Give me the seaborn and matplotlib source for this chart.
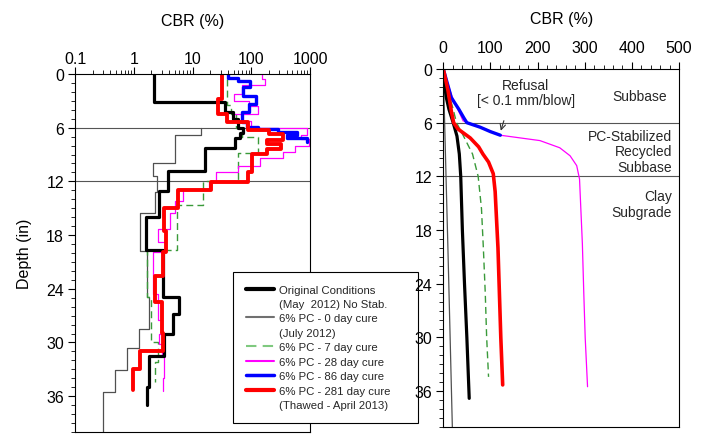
import numpy as np
import matplotlib
matplotlib.use("Agg")
import matplotlib.pyplot as plt
import seaborn as sns
from matplotlib.lines import Line2D
from matplotlib.ticker import MultipleLocator, LogLocator, NullFormatter

# ---------------- data: left panel (DCP-CBR step profiles) ----------------
orig_depth = [0, 3.1, 4.3, 5.0, 6.0, 6.6, 7.2, 8.3, 10.8, 13.1, 16.0, 19.7, 24.9, 26.8, 29.0, 31.5, 35.0, 37.0]
orig_cbr = [2.2, 36, 48, 60, 72, 64, 52, 16, 3.8, 2.7, 1.6, 3.2, 5.8, 4.6, 3.3, 1.8, 1.7]

day0_depth = [6.0, 6.8, 9.9, 11.4, 13.2, 15.5, 19.8, 24.9, 28.5, 30.6, 33.1, 35.5, 40.0]
day0_cbr = [14, 5.0, 2.1, 2.5, 2.3, 1.3, 1.65, 1.8, 1.23, 0.78, 0.48, 0.30]

day7_depth = [0.6, 3.5, 4.5, 6.0, 7.0, 8.8, 12.0, 14.6, 19.7, 24.9, 30.0, 32.2, 34.4]
day7_cbr = [38, 45, 55, 70, 130, 60, 15.3, 5.4, 1.66, 2.0, 2.6, 2.3]

day28_depth = [0, 0.6, 1.2, 2.2, 3.0, 3.6, 4.5, 5.3, 6.0, 6.8, 7.3, 8.0, 8.7, 9.4, 10.3, 11.0,
               12.1, 12.8, 14.2, 15.5, 17.3, 18.8, 19.9, 24.6, 27.5, 29.0, 30.2, 31.5, 34.0, 35.4]
day28_cbr = [150, 170, 70, 50, 90, 130, 50, 100, 900, 700, 950, 560, 350, 140, 60, 25,
             19, 7, 5, 4.2, 2.6, 3.4, 2.1, 2.6, 3.0, 2.7, 3.0, 3.3, 3.1]

day86_depth = [0, 0.4, 0.8, 1.5, 2.5, 3.3, 4.3, 5.4, 5.9, 6.2, 6.5, 6.8, 7.2, 7.6]
day86_cbr = [40, 60, 95, 72, 120, 90, 70, 85, 130, 280, 600, 400, 900]

day281_depth = [0, 2.8, 4.5, 5.4, 6.3, 6.7, 7.4, 7.8, 8.4, 8.9, 11.0, 12.1, 13.0, 15.0,
                17.5, 19.9, 22.6, 25.5, 28.9, 30.9, 33.0, 35.3]
day281_cbr = [32, 27, 38, 89, 200, 350, 182, 320, 182, 101, 89, 21, 5.7, 3.3,
              3.5, 3.1, 2.3, 3.0, 3.2, 1.28, 0.98]

# ---------------- data: right panel (cumulative curves) ----------------
c_orig_depth = [0, 1.5, 3.2, 4.5, 6.0, 7.5, 9.5, 12, 18, 24, 30, 36.8]
c_orig = [0, 2, 6.4, 12, 21, 29, 34, 37, 40.5, 45, 50, 55]

c_day0_depth = [0, 10, 20, 30, 40]
c_day0 = [0, 4.8, 9.8, 14.5, 19.2]

c_day7_depth = [0, 2, 4.3, 6, 7.4, 9.5, 12, 15.6, 20, 25, 30, 34.4]
c_day7 = [0, 7, 20, 28, 42, 62, 74, 81, 85, 89, 92, 96]

c_day28_depth = [0, 3, 5.8, 6.5, 7.4, 7.7, 8.0, 8.8, 9.7, 10.8, 12.3, 19.5, 25, 30, 35.5]
c_day28 = [0, 18, 42, 80, 121, 163, 205, 247, 269, 283, 289, 295, 298, 301, 306]

c_day86_depth = [0, 1.5, 3.2, 4.5, 5.5, 6.0, 6.5, 7.0, 7.4]
c_day86 = [0, 8, 17, 33, 44, 50, 78, 100, 121]

c_day281_depth = [0, 2.4, 4.7, 6.0, 6.7, 7.7, 8.7, 9.5, 10.4, 11.7, 13.7, 20, 25, 30, 35.3]
c_day281 = [0, 10, 17, 22, 31, 57, 75, 84, 96, 106, 110, 116, 119, 122, 126]

left_ticks = [0.1, 1, 10, 100, 1000]
left_ticklabels = ["0.1", "1", "10", "100", "1000"]
right_ticks = [0, 100, 200, 300, 400, 500]
depth_ticks = [0, 6, 12, 18, 24, 30, 36]
layer_depths = [6, 12]

legend_labels = ["Original Conditions", "(May  2012) No Stab.", "6% PC - 0 day cure", "(July 2012)",
                 "6% PC - 7 day cure", "6% PC - 28 day cure", "6% PC - 86 day cure",
                 "6% PC - 281 day cure", "(Thawed - April 2013)"]


def steps(depths, vals):
    d = np.asarray(depths, dtype=float)
    v = np.asarray(vals, dtype=float)
    y = np.column_stack([d[:-1], d[1:]]).ravel()
    x = np.repeat(v, 2)
    return x, y


sns.set_theme(style="ticks")
plt.rcParams["font.family"] = ["Liberation Sans", "DejaVu Sans"]

C_BLACK = "#000000"
C_GRAY = "#505050"
C_GREEN = "#3a9a3a"
C_MAG = "#ff00ff"
C_BLUE = "#0000ff"
C_RED = "#ff0000"
DASH = (0, (5, 3))

fig = plt.figure(figsize=(7.07, 4.35), dpi=100)
ax1 = fig.add_axes([0.1061, 0.0046, 0.3324, 0.823])
ax2 = fig.add_axes([0.627, 0.0161, 0.3334, 0.823])

# ---------- left panel ----------
series_left = [
    (day0_depth, day0_cbr, C_GRAY, 0.9, "-"),
    (day7_depth, day7_cbr, C_GREEN, 1.0, DASH),
    (day28_depth, day28_cbr, C_MAG, 0.9, "-"),
    (day86_depth, day86_cbr, C_BLUE, 2.4, "-"),
    (orig_depth, orig_cbr, C_BLACK, 2.3, "-"),
    (day281_depth, day281_cbr, C_RED, 2.8, "-"),
]
for d, v, c, lw, ls in series_left:
    x, y = steps(d, v)
    sns.lineplot(x=x, y=y, ax=ax1, sort=False, estimator=None, color=c,
                 linewidth=lw, linestyle=ls, legend=False)

ax1.set_xscale("log")
ax1.set_xlim(0.1, 1000)
ax1.set_ylim(40, 0)
for dd in layer_depths:
    ax1.axhline(dd, color="#555555", lw=0.8, zorder=1)
ax1.set_xticks(left_ticks)
ax1.set_xticklabels(left_ticklabels)
ax1.xaxis.set_minor_locator(LogLocator(base=10, subs=np.arange(2, 10)))
ax1.xaxis.set_minor_formatter(NullFormatter())
ax1.xaxis.tick_top()
ax1.xaxis.set_label_position("top")
ax1.set_yticks(depth_ticks)
ax1.yaxis.set_minor_locator(MultipleLocator(1))
ax1.set_xlabel("CBR (%)", fontsize=11.5, labelpad=19, color="black")
ax1.set_ylabel("Depth (in)", fontsize=11.5, labelpad=10, color="black")

# ---------- right panel ----------
series_right = [
    (c_day0_depth, c_day0, C_GRAY, 0.9, "-"),
    (c_day7_depth, c_day7, C_GREEN, 1.0, DASH),
    (c_day28_depth, c_day28, C_MAG, 0.9, "-"),
    (c_day86_depth, c_day86, C_BLUE, 2.4, "-"),
    (c_orig_depth, c_orig, C_BLACK, 2.3, "-"),
    (c_day281_depth, c_day281, C_RED, 2.6, "-"),
]
for d, v, c, lw, ls in series_right:
    sns.lineplot(x=v, y=d, ax=ax2, sort=False, estimator=None, color=c,
                 linewidth=lw, linestyle=ls, legend=False)

ax2.set_xlim(0, 500)
ax2.set_ylim(40, 0)
for dd in layer_depths:
    ax2.axhline(dd, color="#555555", lw=0.8, zorder=1)
ax2.set_xticks(right_ticks)
ax2.xaxis.set_minor_locator(MultipleLocator(20))
ax2.xaxis.tick_top()
ax2.xaxis.set_label_position("top")
ax2.set_yticks(depth_ticks)
ax2.yaxis.set_minor_locator(MultipleLocator(1))
ax2.set_xlabel("CBR (%)", fontsize=11.5, labelpad=12, color="black")
ax2.set_ylabel("")

ax2.text(417, 3.0, "Subbase", fontsize=10, ha="center", va="center")
ax2.text(485, 9.2, "PC-Stabilized\nRecycled\nSubbase", fontsize=10, ha="right", va="center",
         multialignment="right", linespacing=1.15)
ax2.text(485, 15.1, "Clay\nSubgrade", fontsize=10, ha="right", va="center",
         multialignment="right", linespacing=1.15)
ax2.annotate("Refusal\n[< 0.1 mm/blow]", xy=(122, 6.9), xytext=(175, 2.6),
             fontsize=10, ha="center", va="center", linespacing=1.1,
             arrowprops=dict(arrowstyle="->", color="#333333", lw=0.8,
                             relpos=(0.32, 0.0), shrinkA=8, shrinkB=0))

for ax in (ax1, ax2):
    for s in ax.spines.values():
        s.set_color("black")
        s.set_linewidth(0.8)
    ax.tick_params(which="both", direction="out", color="black", labelcolor="black",
                   top=True, bottom=False, left=True, right=False,
                   labeltop=True, labelbottom=False, labelleft=True)
    ax.tick_params(which="major", length=5, width=0.8, labelsize=11.5, pad=3)
    ax.tick_params(which="minor", length=3, width=0.6)
ax1.tick_params(axis="x", which="major", pad=0.5)
ax2.tick_params(axis="x", which="major", pad=5)

# ---------- legend ----------
none = Line2D([], [], color="none")
handles = [
    Line2D([], [], color=C_BLACK, lw=3), none,
    Line2D([], [], color="#707070", lw=1.5), none,
    Line2D([], [], color="#7fc97f", lw=1.5, linestyle=DASH),
    Line2D([], [], color=C_MAG, lw=1.5),
    Line2D([], [], color=C_BLUE, lw=2.5),
    Line2D([], [], color=C_RED, lw=3), none,
]
leg = ax1.legend(handles, legend_labels, loc="upper left",
                 bbox_to_anchor=(233 / 707, 1 - 422 / 435, 185 / 707, 149 / 435),
                 bbox_transform=fig.transFigure, mode="expand", borderaxespad=0,
                 fontsize=8.2, handlelength=2.5, handletextpad=0.45,
                 labelspacing=0.39, borderpad=1.1, fancybox=False,
                 framealpha=1, edgecolor="black")
leg.get_frame().set_linewidth(0.8)
leg.set_zorder(10)

fig.savefig("out.png", dpi=100)
